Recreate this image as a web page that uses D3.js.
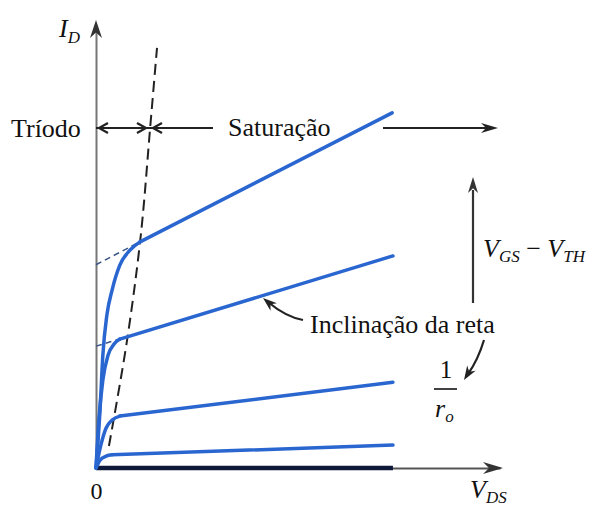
<!DOCTYPE html>
<html lang="pt">
<head>
<meta charset="UTF-8" />
<title>Curvas I_D x V_DS</title>
<script src="https://d3js.org/d3.v7.min.js"></script>
<style>
  body { margin: 0; background: #fff; }
  svg text { font-family: "Liberation Serif", "Times New Roman", serif; fill: #111; }
  .math { font-style: italic; }
</style>
</head>
<body>
<svg width="592" height="506"></svg>
<script>
// curvas: V_DS e I_D em unidades arbitrarias
// regiao de triodo (curva) de cada curva, da origem ate o joelho
const triode1 = [[0,0],[0.10,1.32],[0.17,2.57],[0.27,3.48],[0.40,4.05],[0.59,4.61],[0.84,4.95],[1.09,5.14]];
const triode2 = [[0,0],[0.07,1.09],[0.17,2.00],[0.30,2.57],[0.45,2.82],[0.59,2.93]];
const triode3 = [[0,0],[0.12,0.52],[0.25,0.91],[0.40,1.09],[0.59,1.18]];
const triode4 = [[0,0],[0.10,0.18],[0.25,0.27],[0.40,0.30]];
// fim das retas de saturacao
const satEnd = [[7.33,8.07],[7.35,4.82],[7.35,1.95],[7.35,0.52]];
// corrente na extensao tracejada (V_DS = 0) das duas retas de cima
const extI0 = [4.62, 2.77];
// curva V_GS < V_TH (I_D = 0)
const offCurve = [[0,0],[7.35,0]];
// fronteira triodo / saturacao (tracejada)
const boundary = [[0.32,0.50],[0.77,2.91],[1.11,5.30],[1.34,7.73],[1.51,9.55]];

const svg = d3.select("svg");
const x = d3.scaleLinear().domain([0, 10]).range([96, 500]);
const y = d3.scaleLinear().domain([0, 10]).range([468, 28]);

const blue = "#2a66d0";
const line = d3.line().x(d => x(d[0])).y(d => y(d[1]));

// eixos
svg.append("g")
  .attr("transform", `translate(0,${y(0)})`)
  .call(d3.axisBottom(x).tickValues([0]).tickSize(0).tickSizeOuter(0).tickPadding(14))
  .call(g => g.select(".domain").attr("stroke", "#555").attr("stroke-width", 2))
  .call(g => g.selectAll("text").style("font-family", "Liberation Serif").style("font-size", "24px").attr("fill", "#111"));
svg.append("g")
  .attr("transform", `translate(${x(0)},0)`)
  .call(d3.axisLeft(y).tickValues([]).tickSizeOuter(0))
  .call(g => g.select(".domain").attr("stroke", "#777").attr("stroke-width", 2));

// pontas de seta dos eixos
function barb(tx, ty, angle, len, half) {
  const p = [[0,0],[-len,-half],[-len*0.7,0],[-len,half]];
  const a = angle * Math.PI / 180;
  return "M" + p.map(([px, py]) => [tx + px*Math.cos(a) - py*Math.sin(a), ty + px*Math.sin(a) + py*Math.cos(a)].join(",")).join("L") + "Z";
}
svg.append("path").attr("d", barb(x(0), y(10) - 8, -90, 18, 6)).attr("fill", "#333");
svg.append("path").attr("d", barb(x(10) + 3, y(0), 0, 20, 6)).attr("fill", "#333");

// fronteira tracejada
svg.append("path").datum(boundary)
  .attr("d", line.curve(d3.curveCatmullRom))
  .attr("fill", "none").attr("stroke", "#222").attr("stroke-width", 2)
  .attr("stroke-dasharray", "11,6");
line.curve(d3.curveLinear);

// extensoes tracejadas das retas ate o eixo
const triodes = [triode1, triode2, triode3, triode4];
extI0.forEach((i0, k) => {
  const knee = triodes[k][triodes[k].length - 1];
  svg.append("path").datum([[0, i0], knee])
    .attr("d", line).attr("fill", "none")
    .attr("stroke", "#3a5688").attr("stroke-width", 1.5).attr("stroke-dasharray", "6,4");
});

// curva desligada
svg.append("path").datum(offCurve).attr("d", line)
  .attr("stroke", "#0e1838").attr("stroke-width", 4.5);

// curvas I_D
triodes.forEach((t, k) => {
  svg.append("path").datum(t)
    .attr("d", d3.line().x(d => x(d[0])).y(d => y(d[1])).curve(d3.curveMonotoneX))
    .attr("fill", "none").attr("stroke", blue).attr("stroke-width", 3.5).attr("stroke-linecap", "round");
  svg.append("path").datum([t[t.length - 1], satEnd[k]])
    .attr("d", line).attr("fill", "none").attr("stroke", blue).attr("stroke-width", 3.5).attr("stroke-linecap", "round");
});

// seta Triodo / Saturacao
const ya = 128;
svg.append("path").attr("d", `M${x(0)},${ya}H213M383,${ya}H490`)
  .attr("stroke", "#222").attr("stroke-width", 2).attr("fill", "none");
function chevron(tx, dir) {
  return `M${tx + dir*9},${ya - 5}L${tx},${ya}L${tx + dir*9},${ya + 5}`;
}
svg.append("path").attr("d", chevron(99, 1) + chevron(146, -1) + chevron(153, 1))
  .attr("stroke", "#222").attr("stroke-width", 2.2).attr("fill", "none");
svg.append("path").attr("d", barb(498, ya, 0, 17, 5)).attr("fill", "#222");

svg.append("text").attr("x", 11).attr("y", 137).style("font-size", "26px").text("Tríodo");
svg.append("text").attr("x", 228).attr("y", 136).style("font-size", "26px").text("Saturação");

// seta V_GS - V_TH
svg.append("path").attr("d", "M473,303V190").attr("stroke", "#333").attr("stroke-width", 2.2);
svg.append("path").attr("d", barb(473, 177, -90, 16, 5)).attr("fill", "#333");
const vg = svg.append("text").attr("class", "math").attr("x", 483).attr("y", 257).style("font-size", "26px");
vg.append("tspan").text("V");
vg.append("tspan").attr("dy", 5).style("font-size", "17px").text("GS");
vg.append("tspan").attr("dy", -5).style("font-style", "normal").text(" − ");
vg.append("tspan").text("V");
vg.append("tspan").attr("dy", 5).style("font-size", "17px").text("TH");

// inclinacao da reta
svg.append("text").attr("x", 310).attr("y", 333).style("font-size", "26px").text("Inclinação da reta");
svg.append("path").attr("d", "M303,320Q286,317 268,302").attr("stroke", "#222").attr("stroke-width", 2.2).attr("fill", "none");
svg.append("path").attr("d", barb(263, 298, 220, 14, 5)).attr("fill", "#222");
svg.append("path").attr("d", "M484,340Q478,360 468,374").attr("stroke", "#222").attr("stroke-width", 2.2).attr("fill", "none");
svg.append("path").attr("d", barb(464, 380, 122, 14, 5)).attr("fill", "#222");

// 1 / r_o
svg.append("text").attr("x", 446).attr("y", 378).attr("text-anchor", "middle").style("font-size", "25px").text("1");
svg.append("path").attr("d", "M434,389H457").attr("stroke", "#111").attr("stroke-width", 1.6);
const ro = svg.append("text").attr("class", "math").attr("x", 435).attr("y", 417).style("font-size", "26px");
ro.append("tspan").text("r");
ro.append("tspan").attr("dy", 5).style("font-size", "17px").text("o");

// rotulos dos eixos
const id = svg.append("text").attr("class", "math").attr("x", 59).attr("y", 37).style("font-size", "26px");
id.append("tspan").text("I");
id.append("tspan").attr("dy", 6).style("font-size", "17px").text("D");
const vds = svg.append("text").attr("class", "math").attr("x", 470).attr("y", 498).style("font-size", "26px");
vds.append("tspan").text("V");
vds.append("tspan").attr("dy", 5).style("font-size", "17px").text("DS");
</script>
</body>
</html>
